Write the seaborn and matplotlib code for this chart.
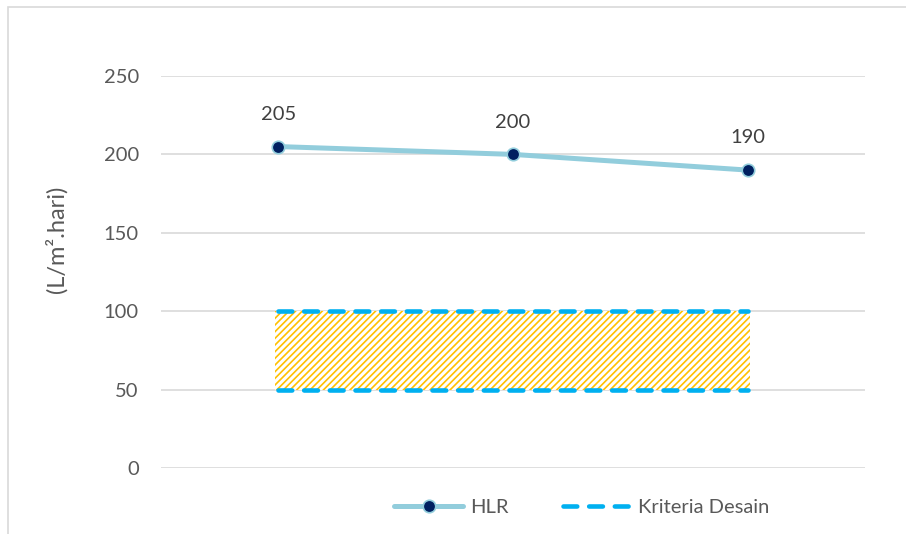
import matplotlib
matplotlib.use("Agg")
import matplotlib.pyplot as plt
from matplotlib.lines import Line2D
from matplotlib.patches import Rectangle
import seaborn as sns
import pandas as pd

# Data
categories = ["1", "2", "3"]
hlr_values = [205, 200, 190]
kriteria_min = 50
kriteria_max = 100
y_ticks = [0, 50, 100, 150, 200, 250]

sns.set_style("white")
plt.rcParams["font.family"] = ["Lato", "DejaVu Sans"]
plt.rcParams["hatch.linewidth"] = 1.2

TEXT = "#595959"
LINE_C = "#92CDDC"
MARK_C = "#002060"
DASH_C = "#00B0F0"
HATCH_C = "#FFC000"
FS = 14.5

fig = plt.figure(figsize=(9.06, 5.34), dpi=100)
ax = fig.add_axes([161 / 906, 1 - 468 / 534, (865 - 161) / 906, (468 - 76) / 534])

df = pd.DataFrame({"x": range(len(categories)), "HLR": hlr_values})
xpos = list(df["x"])

# Design criteria band
ax.fill_between([xpos[0] - 0.015, xpos[-1] + 0.01], kriteria_min, kriteria_max,
                facecolor="white", edgecolor=HATCH_C, hatch="/////",
                linewidth=0, zorder=2)
for yv in (kriteria_min, kriteria_max):
    ax.plot([xpos[0], xpos[-1]], [yv, yv], color=DASH_C, lw=3.3,
            dashes=(3.0, 2.6), dash_capstyle="round", zorder=3)

# HLR line
sns.lineplot(data=df, x="x", y="HLR", ax=ax, color=LINE_C, lw=3.6,
             marker="o", markersize=9, markerfacecolor=MARK_C,
             markeredgecolor=LINE_C, markeredgewidth=1.2, zorder=4,
             legend=False)

for xv, yv in zip(xpos, hlr_values):
    ax.annotate(str(yv), (xv, yv), xytext=(0, 17), textcoords="offset points",
                ha="center", va="bottom", fontsize=FS, color="#404040")

ax.set_xlim(-0.5, len(categories) - 0.5)
ax.set_ylim(0, 250)
ax.set_yticks(y_ticks)
ax.set_yticklabels([str(t) for t in y_ticks], fontsize=FS, color=TEXT)
ax.set_xticks([])
ax.set_xlabel("")
ax.set_ylabel("")
ax.tick_params(axis="y", length=0, pad=16)
ax.grid(axis="y", color="#D9D9D9", lw=1.2, zorder=0)
ax.set_axisbelow(True)
for s in ax.spines.values():
    s.set_visible(False)

fig.text(56 / 906, 1 - 239 / 534, "(L/m\u00b2.hari)", rotation=90,
         ha="center", va="center", fontsize=17, color=TEXT)

# Legend
handles = [
    Line2D([0], [0], color=LINE_C, lw=3.6, marker="o", markersize=9,
           markerfacecolor=MARK_C, markeredgecolor=LINE_C, markeredgewidth=1.2),
    Line2D([0], [0], color=DASH_C, lw=3.3, dashes=(3.0, 2.6),
           dash_capstyle="round"),
]
fig.legend(handles, ["HLR", "Kriteria Desain"], loc="center",
           bbox_to_anchor=(582 / 906, 1 - 507 / 534), ncol=2, frameon=False,
           fontsize=FS, labelcolor=TEXT, handlelength=3.4, columnspacing=2.7,
           handletextpad=0.35)

# Chart border
fig.add_artist(Rectangle((8 / 906, -0.1), 1.2, 1 - 7 / 534 + 0.1,
                         transform=fig.transFigure, fill=False,
                         edgecolor="#D9D9D9", lw=1.2))

fig.savefig("out.png", dpi=100, facecolor="white")
